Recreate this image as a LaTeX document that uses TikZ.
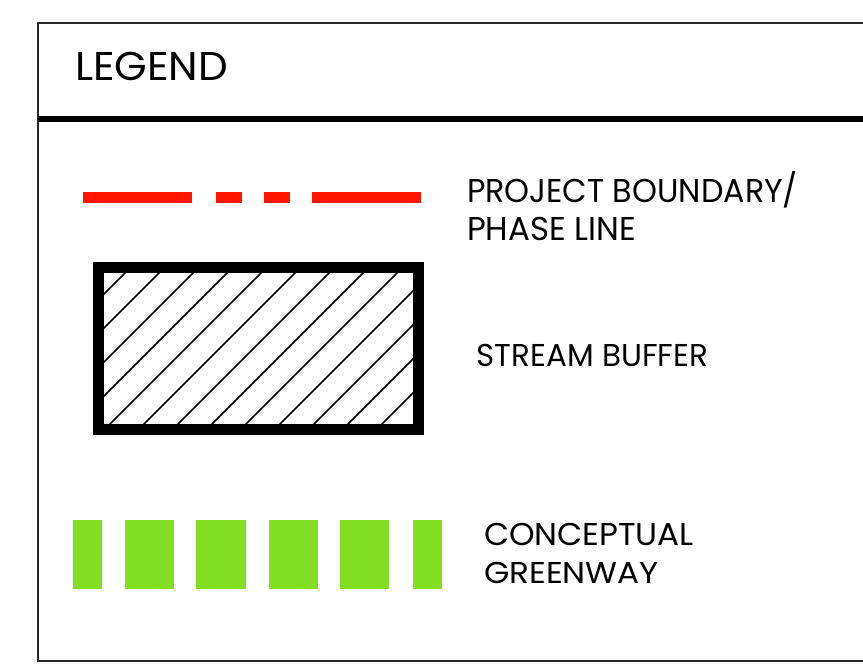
\documentclass[tikz,border=0pt]{standalone}
\usepackage{fontspec}
\setmainfont{Poppins}
\usepackage{graphicx}
\definecolor{framegray}{RGB}{40,40,40}
\definecolor{bndred}{RGB}{255,20,0}
\definecolor{greenway}{RGB}{130,222,34}
\newsavebox\lgdcapbox
\newsavebox\lgdtextbox
% #1 target width, #2 target cap height, #3 text
\newcommand\lgdtxt[3]{%
  \sbox\lgdcapbox{H}\sbox\lgdtextbox{#3}%
  \edef\lgdxs{\fpeval{#1/\wd\lgdtextbox}}%
  \edef\lgdys{\fpeval{#2/\ht\lgdcapbox}}%
  \scalebox{\lgdxs}[\lgdys]{\usebox\lgdtextbox}}
\tikzset{
  frameline/.style={draw=framegray, line width=2pt},
  sepline/.style={draw=black, line width=6pt},
  bnddash/.style={draw=bndred, line width=11pt, line cap=butt},
  hatchline/.style={draw=black, line width=1.6pt},
  bufferbox/.style={draw=black, line width=11pt},
  greenbar/.style={fill=greenway},
  lbl/.style={inner sep=0pt, outer sep=0pt, anchor=base west, text=black}
}
\begin{document}
\begin{tikzpicture}[x=1pt, y=-1pt]
\useasboundingbox (0,0) rectangle (863,671);
% frame
\coordinate (ftr) at (863,23);
\coordinate (ftl) at (38,23);
\coordinate (fbl) at (38,661);
\coordinate (fbr) at (863,661);
\draw[frameline] (ftr) -- (ftl) -- (fbl) -- (fbr);
\coordinate (sl) at (38,119.5);
\coordinate (sr) at (863,119.5);
\draw[sepline] (sl) -- (sr);
% title
\node[lbl] (title) at (75,81) {\lgdtxt{153}{28}{LEGEND}};
% project boundary
\coordinate (d1a) at (83,197.5); \coordinate (d1b) at (192,197.5);
\coordinate (d2a) at (216,197.5); \coordinate (d2b) at (242,197.5);
\coordinate (d3a) at (264,197.5); \coordinate (d3b) at (290,197.5);
\coordinate (d4a) at (312,197.5); \coordinate (d4b) at (421,197.5);
\draw[bnddash] (d1a) -- (d1b);
\draw[bnddash] (d2a) -- (d2b);
\draw[bnddash] (d3a) -- (d3b);
\draw[bnddash] (d4a) -- (d4b);
\node[lbl] (pb1) at (467,203) {\lgdtxt{331}{23}{PROJECT BOUNDARY/}};
\node[lbl] (pb2) at (467,241) {\lgdtxt{169}{23}{PHASE LINE}};
% stream buffer
\begin{scope}
  \clip (104,273) rectangle (413,424);
  \foreach \k in {0,...,12}{
    \pgfmathsetmacro{\c}{398+34*\k}
    \draw[hatchline] (\c-260,260) -- (\c-440,440);
  }
\end{scope}
\node[bufferbox, minimum width=320pt, minimum height=162pt, inner sep=0pt, outer sep=0pt, anchor=north west] (buf) at (98.5,267.5) {};
\node[lbl] (sb) at (476.5,366) {\lgdtxt{231.5}{22}{STREAM BUFFER}};
% greenway
\fill[greenbar] (72.5,520) rectangle (101.5,589);
\fill[greenbar] (124.5,520) rectangle (173.5,589);
\fill[greenbar] (196,520) rectangle (246,589);
\fill[greenbar] (268.5,520) rectangle (317.5,589);
\fill[greenbar] (340,520) rectangle (389,589);
\fill[greenbar] (412.5,520) rectangle (442,589);
\node[lbl] (gw1) at (484,545) {\lgdtxt{210}{22}{CONCEPTUAL}};
\node[lbl] (gw2) at (484,583) {\lgdtxt{175}{21}{GREENWAY}};
\end{tikzpicture}
\end{document}
